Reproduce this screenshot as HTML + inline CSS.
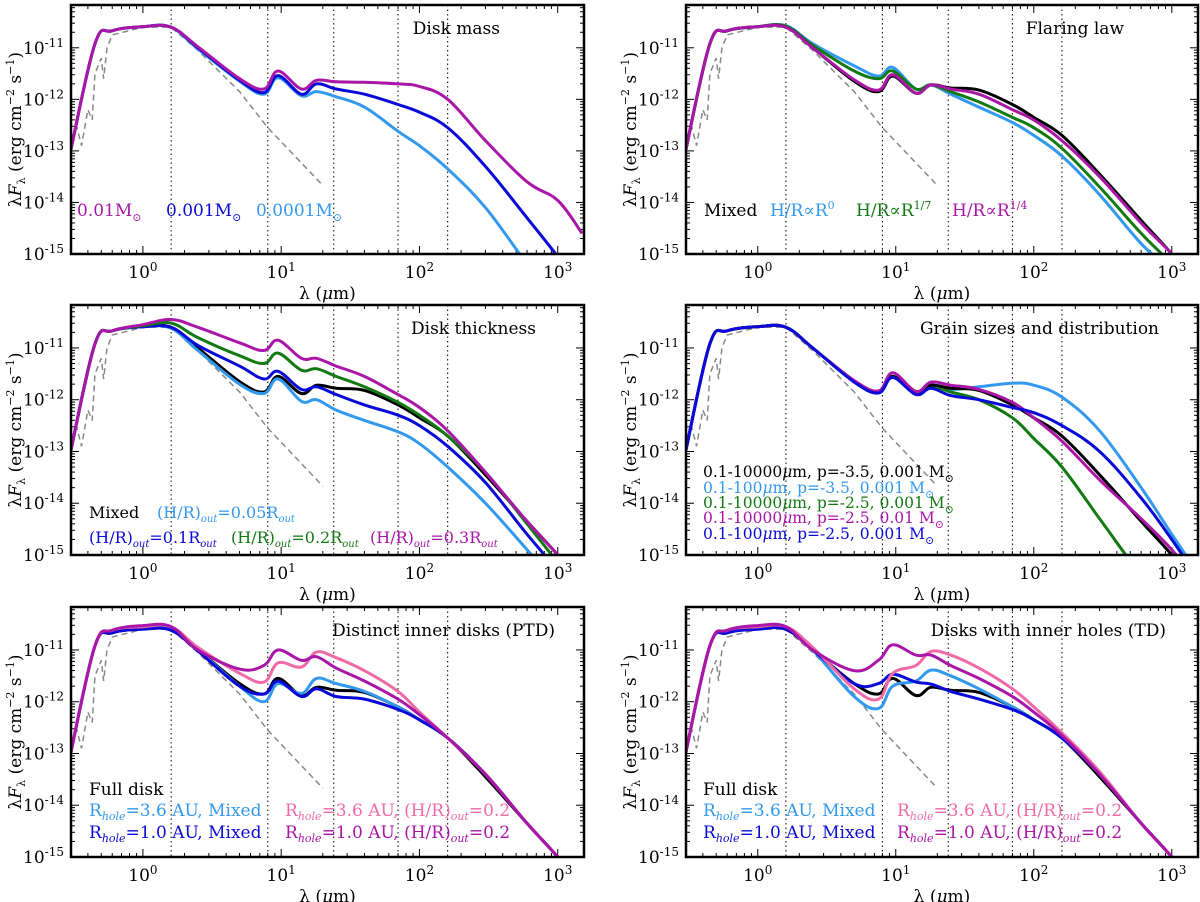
<!DOCTYPE html>
<html><head><meta charset="utf-8"><style>
html,body{margin:0;padding:0;background:#fff;}
svg{display:block;font-family:"DejaVu Serif","Liberation Serif",serif;}
</style></head><body>
<svg id="fig" width="1200" height="902" viewBox="0 0 1200 902" xmlns="http://www.w3.org/2000/svg"></svg>
<script>
// Shared wavelength grid (micron)
const lamGrid = [0.3,0.45,0.6,1,1.6,2.5,5,7.5,9.5,14,18,25,40,70,100,160,300,600,1000,1500];
// Photosphere (dashed)
const starLam = [0.3,0.33,0.36,0.4,0.43,0.45,0.5,0.52,0.55,0.6,1,1.6,2.5,5,8,20];
const starVal = [-13.1,-12.5,-12.9,-12.2,-12.4,-11.5,-11.2,-11.6,-11.0,-10.75,-10.6,-10.6,-11.05,-11.85,-12.55,-13.67];
// log10 fluxes per series
const mixed   = [-13.0,-10.92,-10.67,-10.59,-10.6,-11.0,-11.65,-11.85,-11.55,-11.88,-11.72,-11.78,-11.82,-12.1,-12.35,-12.7,-13.45,-14.35,-15.0,-15.6];
const massHi  = [-13.0,-10.92,-10.67,-10.59,-10.6,-10.98,-11.6,-11.8,-11.45,-11.8,-11.63,-11.66,-11.67,-11.7,-11.75,-12.0,-12.8,-13.6,-13.96,-14.6];
const massMid = [-13.0,-10.92,-10.67,-10.59,-10.6,-11.0,-11.63,-11.87,-11.54,-11.9,-11.7,-11.8,-11.9,-12.1,-12.25,-12.55,-13.3,-14.3,-15.05,-15.7];
const massLo  = [-13.0,-10.92,-10.67,-10.59,-10.6,-11.02,-11.65,-11.9,-11.58,-11.93,-11.85,-11.95,-12.15,-12.62,-12.9,-13.35,-14.1,-15.2,-16.0,-16.5];
const flare14 = [-13.0,-10.92,-10.67,-10.59,-10.6,-11.0,-11.62,-11.82,-11.52,-11.88,-11.72,-11.8,-11.9,-12.2,-12.4,-12.8,-13.5,-14.4,-15.0,-15.6];
const flare17 = [-13.0,-10.92,-10.67,-10.59,-10.58,-10.95,-11.45,-11.6,-11.45,-11.8,-11.72,-11.85,-12.05,-12.35,-12.55,-12.95,-13.7,-14.6,-15.2,-15.8];
const flare0  = [-13.0,-10.92,-10.67,-10.59,-10.57,-10.92,-11.35,-11.55,-11.38,-11.8,-11.72,-11.9,-12.15,-12.45,-12.7,-13.1,-13.85,-14.8,-15.35,-16.0];
const thick05 = [-13.0,-10.92,-10.67,-10.59,-10.62,-11.05,-11.7,-11.88,-11.6,-12.03,-12.0,-12.2,-12.4,-12.62,-12.85,-13.3,-14.0,-14.9,-15.6,-16.2];
const thick10 = [-13.0,-10.92,-10.67,-10.59,-10.6,-10.95,-11.35,-11.6,-11.45,-11.8,-11.75,-11.9,-12.1,-12.3,-12.5,-12.9,-13.6,-14.6,-15.3,-15.9];
const thick20 = [-13.0,-10.92,-10.67,-10.57,-10.52,-10.8,-11.15,-11.3,-11.1,-11.43,-11.4,-11.55,-11.75,-12.05,-12.3,-12.7,-13.4,-14.4,-15.15,-15.8];
const thick30 = [-13.0,-10.92,-10.67,-10.55,-10.45,-10.6,-10.9,-11.05,-10.85,-11.2,-11.2,-11.35,-11.55,-11.9,-12.15,-12.6,-13.4,-14.35,-15.0,-15.6];
const grainA  = [-13.0,-10.92,-10.67,-10.59,-10.6,-11.0,-11.65,-11.85,-11.55,-11.88,-11.72,-11.8,-11.75,-11.68,-11.72,-11.95,-12.6,-13.7,-14.6,-15.3];
const grainB  = [-13.0,-10.92,-10.67,-10.59,-10.6,-11.0,-11.65,-11.85,-11.55,-11.88,-11.74,-11.85,-12.0,-12.35,-12.75,-13.3,-14.3,-15.4,-16.1,-16.6];
const grainC  = [-13.0,-10.92,-10.67,-10.59,-10.6,-11.0,-11.63,-11.83,-11.48,-11.84,-11.66,-11.72,-11.8,-12.05,-12.35,-12.8,-13.55,-14.3,-14.9,-15.5];
const grainD  = [-13.0,-10.92,-10.67,-10.59,-10.6,-11.0,-11.66,-11.87,-11.57,-11.9,-11.78,-11.92,-12.0,-12.15,-12.25,-12.5,-13.0,-13.9,-14.7,-15.4];
const ptdLb   = [-13.0,-10.92,-10.65,-10.57,-10.57,-11.0,-11.7,-12.0,-11.65,-11.84,-11.55,-11.65,-11.8,-12.1,-12.35,-12.7,-13.4,-14.35,-15.0,-15.6];
const ptdBl   = [-13.0,-10.92,-10.67,-10.6,-10.62,-11.02,-11.7,-11.85,-11.6,-11.9,-11.75,-11.9,-11.95,-12.15,-12.35,-12.7,-13.4,-14.35,-15.0,-15.6];
const ptdPk   = [-13.0,-10.92,-10.62,-10.55,-10.55,-10.95,-11.45,-11.62,-11.25,-11.33,-11.04,-11.15,-11.4,-11.8,-12.2,-12.7,-13.4,-14.35,-15.0,-15.6];
const ptdPu   = [-13.0,-10.92,-10.62,-10.53,-10.55,-11.0,-11.37,-11.3,-11.0,-11.2,-11.13,-11.35,-11.6,-11.95,-12.25,-12.7,-13.4,-14.35,-15.0,-15.6];
const tdLb    = [-13.0,-10.92,-10.65,-10.57,-10.57,-11.0,-11.9,-12.13,-11.7,-11.6,-11.39,-11.5,-11.75,-12.1,-12.35,-12.7,-13.4,-14.35,-15.0,-15.6];
const tdBl    = [-13.0,-10.92,-10.67,-10.6,-10.6,-11.0,-11.65,-11.65,-11.47,-11.62,-11.66,-11.8,-11.95,-12.15,-12.35,-12.7,-13.4,-14.35,-15.0,-15.6];
const tdPk    = [-13.0,-10.92,-10.62,-10.55,-10.55,-10.95,-11.75,-11.95,-11.45,-11.3,-11.03,-11.1,-11.35,-11.75,-12.1,-12.6,-13.35,-14.35,-15.0,-15.6];
const tdPu    = [-13.0,-10.92,-10.62,-10.53,-10.55,-11.0,-11.4,-11.2,-10.9,-11.1,-11.1,-11.3,-11.55,-11.9,-12.2,-12.65,-13.4,-14.35,-15.0,-15.6];
const dotLines = [1.6,8,24,70,160];
const xTicks = [0,1,2,3];
const yTicks = [-15,-14,-13,-12,-11];

const C = {k:'#000000',p:'#aa16a8',b:'#0a0ad8',lb:'#3399ee',g:'#137a13',pk:'#f06aa8'};
const NS='http://www.w3.org/2000/svg';
const svg=document.getElementById('fig');
function el(tag,attrs,parent){const e=document.createElementNS(NS,tag);for(const k in attrs)e.setAttribute(k,attrs[k]);(parent||svg).appendChild(e);return e;}
function smoothPath(pts){
  let d='M'+pts[0][0].toFixed(1)+','+pts[0][1].toFixed(1);
  for(let i=0;i<pts.length-1;i++){
    const p0=pts[Math.max(0,i-1)],p1=pts[i],p2=pts[i+1],p3=pts[Math.min(pts.length-1,i+2)];
    const t=0.18;
    const c1=[p1[0]+(p2[0]-p0[0])*t,p1[1]+(p2[1]-p0[1])*t];
    const c2=[p2[0]-(p3[0]-p1[0])*t,p2[1]-(p3[1]-p1[1])*t];
    d+=' C'+c1[0].toFixed(1)+','+c1[1].toFixed(1)+' '+c2[0].toFixed(1)+','+c2[1].toFixed(1)+' '+p2[0].toFixed(1)+','+p2[1].toFixed(1);
  }
  return d;
}

const LXMIN=-0.52, LXMAX=3.19, LYMIN=-15, LYMAX=-10.17;
const panels=[
 {name:'disk-mass',x:71,y:5,w:513,h:249,title:'Disk mass',tx:500,
  series:[['mass-0.0001',massLo,C.lb],['mass-0.001',massMid,C.b],['mass-0.01',massHi,C.p]]},
 {name:'flaring-law',x:686,y:5,w:512,h:249,title:'Flaring law',tx:1124,
  series:[['flare-r0',flare0,C.lb],['flare-r17',flare17,C.g],['mixed',mixed,C.k],['flare-r14',flare14,C.p]]},
 {name:'disk-thickness',x:71,y:305,w:513,h:250,title:'Disk thickness',tx:536,
  series:[['mixed',mixed,C.k],['thick-0.05',thick05,C.lb],['thick-0.1',thick10,C.b],['thick-0.2',thick20,C.g],['thick-0.3',thick30,C.p]]},
 {name:'grain-sizes',x:686,y:305,w:512,h:250,title:'Grain sizes and distribution',tx:1159,
  series:[['grain-a',grainA,C.lb],['grain-b',grainB,C.g],['mixed',mixed,C.k],['grain-c',grainC,C.p],['grain-d',grainD,C.b]]},
 {name:'ptd',x:71,y:607,w:513,h:250,title:'Distinct inner disks (PTD)',tx:555,
  series:[['full-disk',mixed,C.k],['ptd-3.6-mixed',ptdLb,C.lb],['ptd-1.0-mixed',ptdBl,C.b],['ptd-3.6-hr',ptdPk,C.pk],['ptd-1.0-hr',ptdPu,C.p]]},
 {name:'td',x:686,y:607,w:512,h:250,title:'Disks with inner holes (TD)',tx:1166,
  series:[['full-disk',mixed,C.k],['td-3.6-mixed',tdLb,C.lb],['td-1.0-mixed',tdBl,C.b],['td-3.6-hr',tdPk,C.pk],['td-1.0-hr',tdPu,C.p]]}
];

panels.forEach((P,i)=>{
  const g=el('g',{});
  
  
  const sx=l=>P.x+(Math.log10(l)-LXMIN)/(LXMAX-LXMIN)*P.w;
  const sxl=lg=>P.x+(lg-LXMIN)/(LXMAX-LXMIN)*P.w;
  const sy=v=>P.y+P.h-(v-LYMIN)/(LYMAX-LYMIN)*P.h;
  const cid='clip'+i;
  const cp=el('clipPath',{id:cid},g);el('rect',{x:P.x,y:P.y,width:P.w,height:P.h},cp);
  dotLines.forEach(l=>{const ln=el('line',{x1:sx(l),x2:sx(l),y1:P.y,y2:P.y+P.h,stroke:'#000','stroke-width':1,'stroke-dasharray':'1.5,3'},g);
    
    });
  for(let d=-1;d<=3;d++)for(let m=1;m<=9;m++){const lg=d+Math.log10(m);if(lg<LXMIN||lg>LXMAX)continue;
    const L=m===1?8:4;const x=sxl(lg);
    el('line',{x1:x,x2:x,y1:P.y+P.h,y2:P.y+P.h-L,stroke:'#000','stroke-width':1},g);
    el('line',{x1:x,x2:x,y1:P.y,y2:P.y+L,stroke:'#000','stroke-width':1},g);}
  for(let d=-16;d<=-10;d++)for(let m=1;m<=9;m++){const lg=d+Math.log10(m);if(lg<LYMIN||lg>LYMAX)continue;
    const L=m===1?8:4;const y=sy(lg);
    el('line',{x1:P.x,x2:P.x+L,y1:y,y2:y,stroke:'#000','stroke-width':1},g);
    el('line',{x1:P.x+P.w,x2:P.x+P.w-L,y1:y,y2:y,stroke:'#000','stroke-width':1},g);}
  xTicks.forEach(t=>{const tx=el('text',{x:sxl(t),y:P.y+P.h+24,'font-size':17,'text-anchor':'middle'},g);
    
    
    tx.innerHTML='10<tspan dy="-7" font-size="12">'+t+'</tspan>';});
  yTicks.forEach(t=>{const tx=el('text',{x:P.x-7,y:sy(t)+6,'font-size':17,'text-anchor':'end'},g);
    
    
    tx.innerHTML='10<tspan dy="-7" font-size="12">'+t+'</tspan>';});
  const xt=el('text',{x:P.x+P.w/2,y:P.y+P.h+45,'font-size':17,'text-anchor':'middle'},g);
  
  
  xt.innerHTML='λ (<tspan font-style="italic">μ</tspan>m)';
  const yx=P.x-50, yy=P.y+P.h/2;
  const yt=el('text',{x:yx,y:yy,'font-size':17,'text-anchor':'middle',transform:'rotate(-90 '+yx+' '+yy+')'},g);
  
  
  yt.innerHTML='λ<tspan font-style="italic">F</tspan><tspan font-size="11" dy="4">λ</tspan><tspan dy="-4"> (erg cm</tspan><tspan font-size="11" dy="-7">−2</tspan><tspan dy="7"> s</tspan><tspan font-size="11" dy="-7">−1</tspan><tspan dy="7">)</tspan>';
  const cg=el('g',{'clip-path':'url(#'+cid+')'},g);
  const sp=el('polyline',{points:starLam.map((l,j)=>sx(l)+','+sy(starVal[j])).join(' '),fill:'none',stroke:'#888','stroke-width':1.5,'stroke-dasharray':'6,4'},cg);
  
  
  P.series.forEach(s=>{const pts=lamGrid.map((l,j)=>[sx(l),sy(s[1][j])]);
    const pl=el('path',{d:smoothPath(pts),fill:'none',stroke:s[2],'stroke-width':3,'stroke-linejoin':'round'},cg);
    
    });
  const fr=el('rect',{x:P.x,y:P.y,width:P.w,height:P.h,fill:'none',stroke:'#000','stroke-width':2.5},g);
  
  
  const tt=el('text',{x:P.tx,y:P.y+29,'font-size':17,'text-anchor':'end'},g);
  
  
  tt.textContent=P.title;
});

function lg(x,y,color,html,size,name){const t=el('text',{x:x,y:y,fill:color,'font-size':size||17});
  
  
  t.innerHTML=html;}
const sun='<tspan font-size="11" dy="5">⊙</tspan>';
lg(77,216,C.p,'0.01M'+sun,17,'legend-mass-0.01');
lg(166,216,C.b,'0.001M'+sun,17,'legend-mass-0.001');
lg(256,216,C.lb,'0.0001M'+sun,17,'legend-mass-0.0001');
lg(704,216,C.k,'Mixed',17,'legend-mixed');
lg(770,216,C.lb,'H/R∝R<tspan font-size="11" dy="-7">0</tspan>',17,'legend-flare-r0');
lg(856,216,C.g,'H/R∝R<tspan font-size="11" dy="-7">1/7</tspan>',17,'legend-flare-r17');
lg(952,216,C.p,'H/R∝R<tspan font-size="11" dy="-7">1/4</tspan>',17,'legend-flare-r14');
const out='<tspan font-size="10" dy="4" font-style="italic">out</tspan><tspan dy="-4">';
lg(89,518,C.k,'Mixed',16,'legend-mixed');
lg(157,518,C.lb,'(H/R)'+out+'=0.05R</tspan>'+out+'</tspan>',16,'legend-thick-0.05');
lg(89,543,C.b,'(H/R)'+out+'=0.1R</tspan>'+out+'</tspan>',16,'legend-thick-0.1');
lg(231,543,C.g,'(H/R)'+out+'=0.2R</tspan>'+out+'</tspan>',16,'legend-thick-0.2');
lg(370,543,C.p,'(H/R)'+out+'=0.3R</tspan>'+out+'</tspan>',16,'legend-thick-0.3');
const mu='<tspan font-style="italic">μ</tspan>m';
lg(703,477,C.k,'0.1-10000'+mu+', p=-3.5, 0.001 M'+sun,15.5,'legend-grain-a');
lg(703,493,C.lb,'0.1-100'+mu+', p=-3.5, 0.001 M'+sun,15.5,'legend-grain-b');
lg(703,508,C.g,'0.1-10000'+mu+', p=-2.5, 0.001 M'+sun,15.5,'legend-grain-c');
lg(703,523,C.p,'0.1-10000'+mu+', p=-2.5, 0.01 M'+sun,15.5,'legend-grain-d');
lg(703,539,C.b,'0.1-100'+mu+', p=-2.5, 0.001 M'+sun,15.5,'legend-grain-e');
const hole='<tspan font-size="11" dy="4" font-style="italic">hole</tspan><tspan dy="-4">';
const hro='<tspan font-size="11" dy="4" font-style="italic">out</tspan><tspan dy="-4">';
[[89,285],[703,897]].forEach((p,k)=>{
  lg(p[0],795,C.k,'Full disk',17,'legend-full-disk');
  lg(p[0],816,C.lb,'R'+hole+'=3.6 AU, Mixed</tspan>',17,'legend-3.6-mixed');
  lg(p[0],838,C.b,'R'+hole+'=1.0 AU, Mixed</tspan>',17,'legend-1.0-mixed');
  lg(p[1],816,C.pk,'R'+hole+'=3.6 AU, (H/R)</tspan>'+hro+'=0.2</tspan>',17,'legend-3.6-hr');
  lg(p[1],838,C.p,'R'+hole+'=1.0 AU, (H/R)</tspan>'+hro+'=0.2</tspan>',17,'legend-1.0-hr');
});
</script>
</body></html>
